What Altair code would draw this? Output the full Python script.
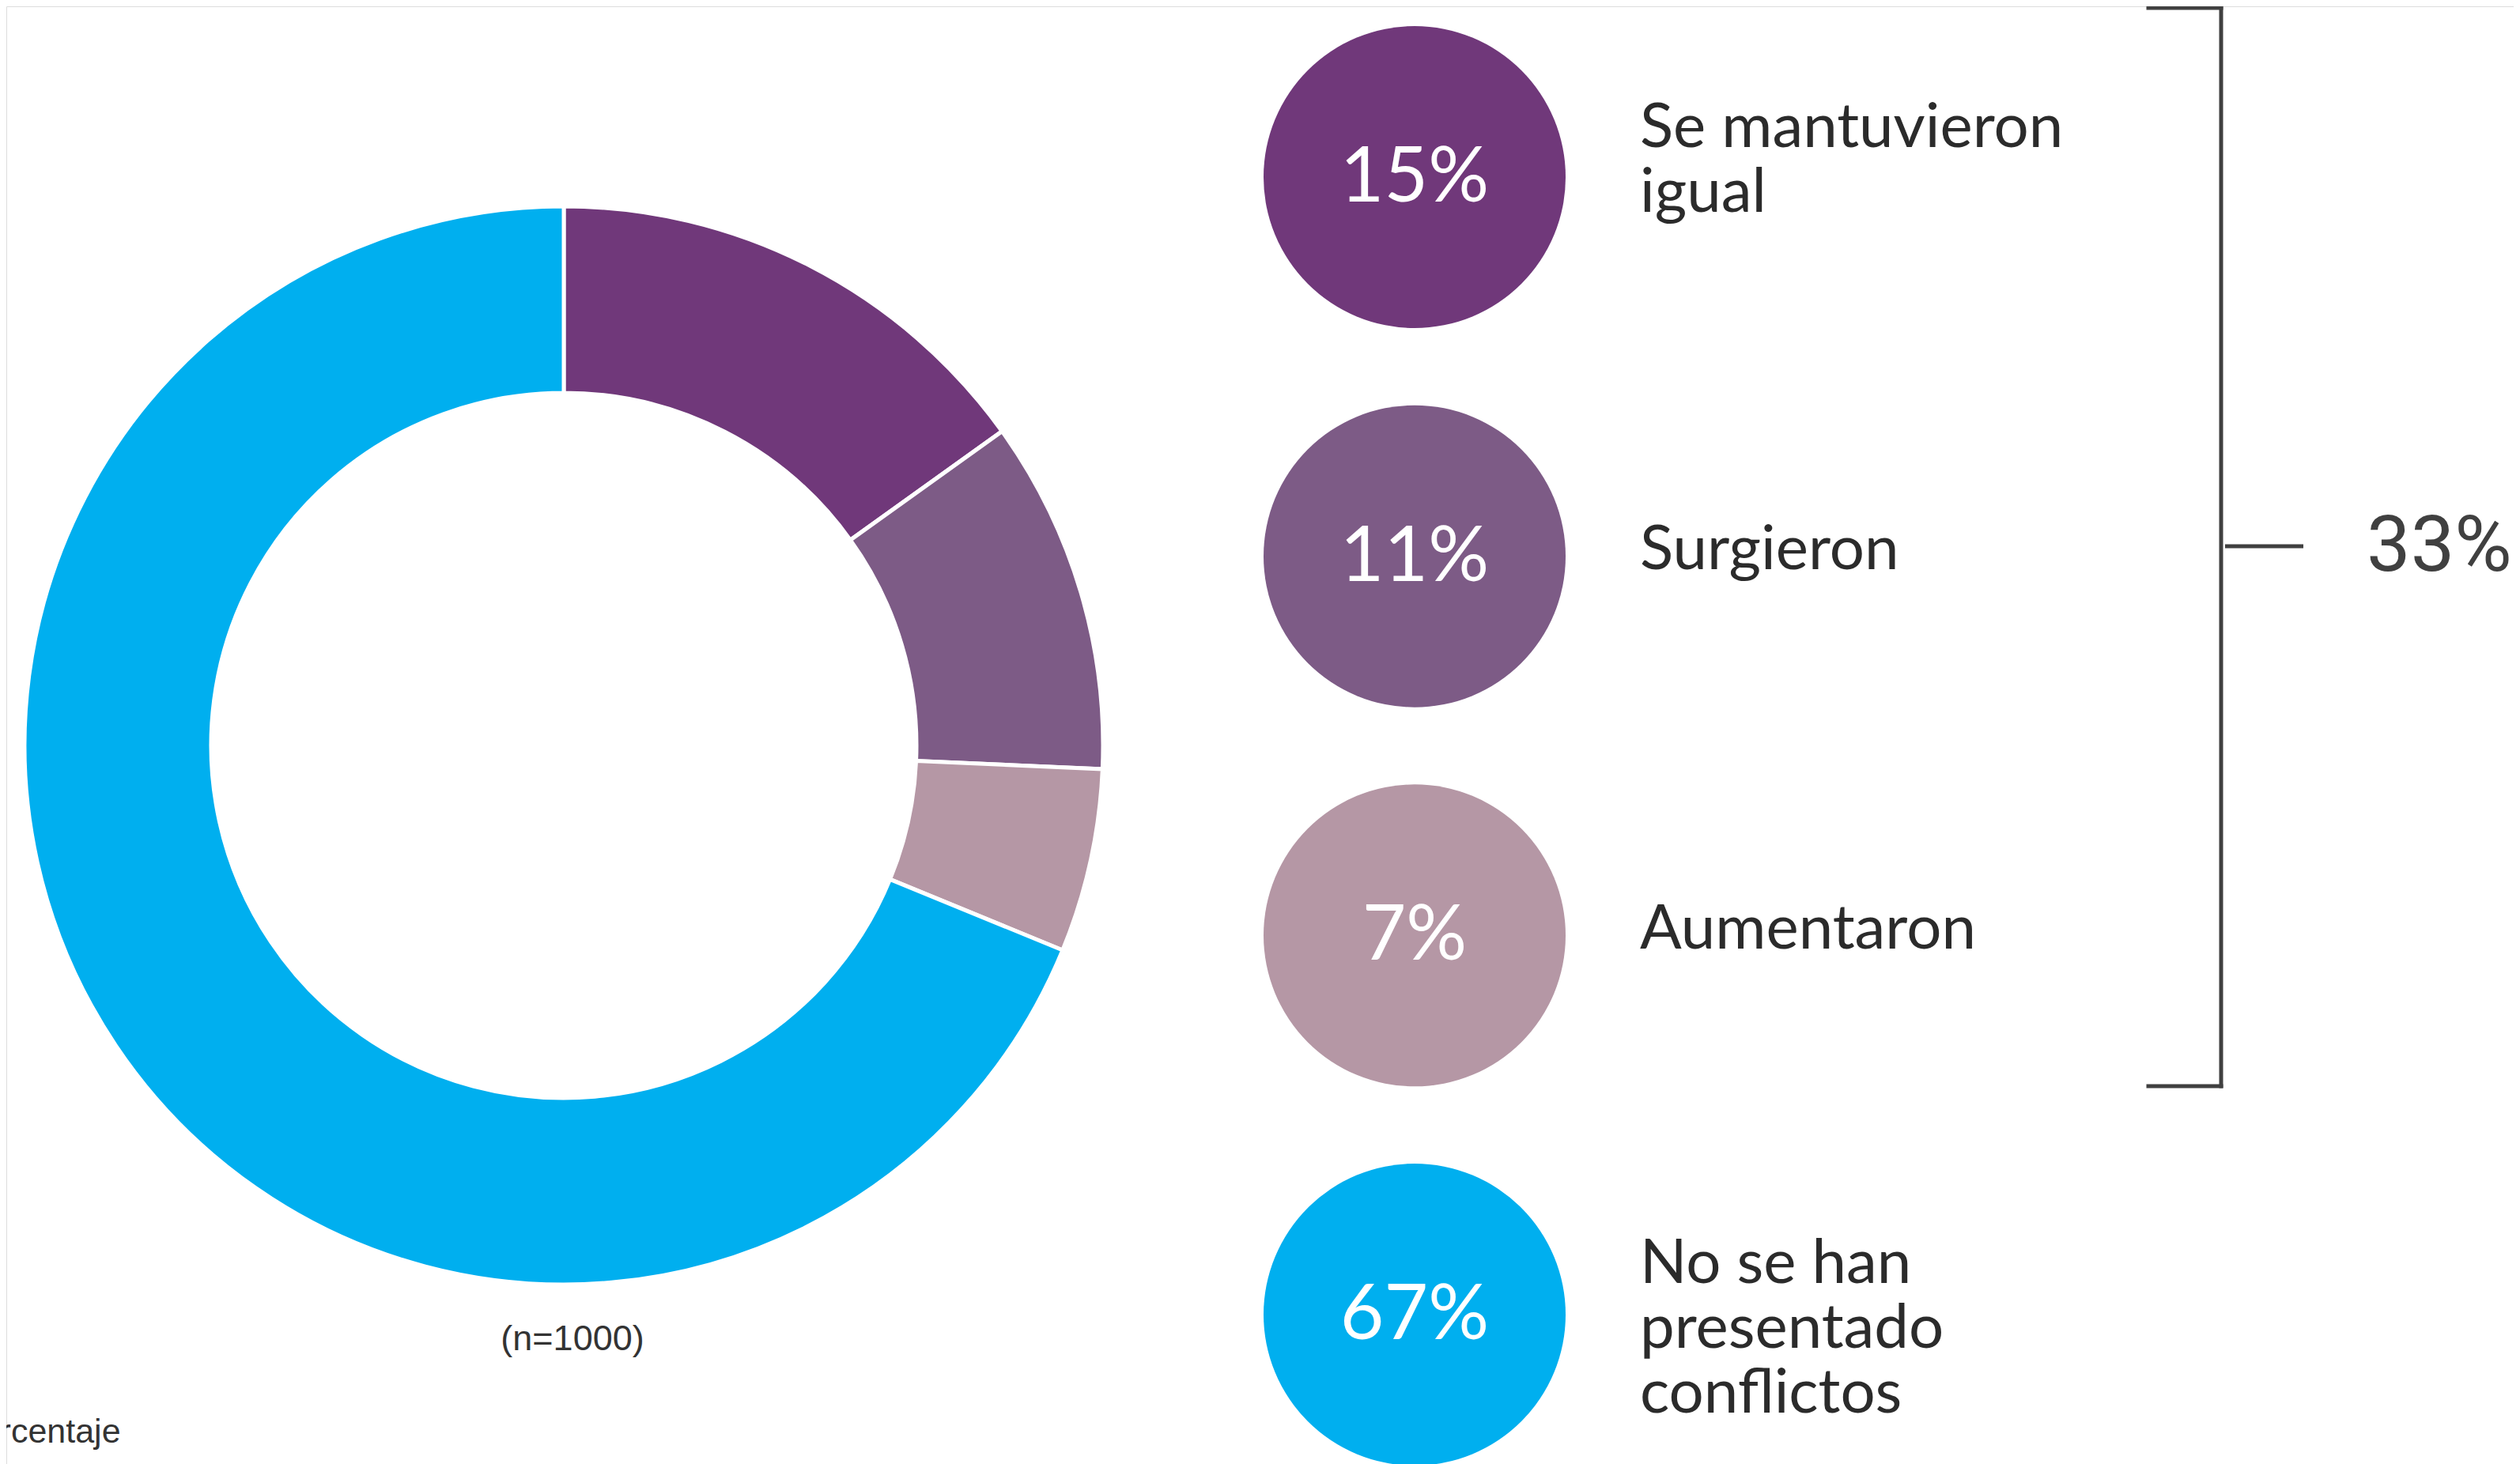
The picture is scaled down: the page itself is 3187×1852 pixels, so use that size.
import altair as alt
import pandas as pd

# ---------------- data ----------------
categories = ["Se mantuvieron igual", "Surgieron", "Aumentaron", "No se han presentado conflictos"]
label_text = ["Se mantuvieron\nigual", "Surgieron", "Aumentaron", "No se han\npresentado\nconflictos"]
pct_labels = [15, 11, 7, 67]            # printed percentages
slice_share = [15.1, 10.6, 5.5, 68.8]   # angular share of the drawn donut slices
colors = ["#70387A", "#7D5B86", "#B597A5", "#00AFEF"]
sample_note = "(n=1000)"
footer_note = "Porcentaje"
bracket_total = f"{sum(pct_labels[:3])}%"

# ---------------- layout ----------------
W, H = 3171, 1844
donut_cx, donut_cy = 705, 935
r_out, r_in = 682, 446
bub_x, bub_d = 1781, 382
bub_y_range = [216, 1655]
row_step = (bub_y_range[1] - bub_y_range[0]) / (len(categories) - 1)
label_x = 2066
label_dy = [-38, 16, 17, -40]
ink = "#2b2b2b"
bracket_col = "#404040"

df = pd.DataFrame({
    "cat": categories,
    "order": list(range(len(categories))),
    "share": slice_share,
    "pct": [f"{p}%" for p in pct_labels],
    "label": label_text,
    "dy": label_dy,
})

base = alt.Chart(df)
color = alt.Color("cat:N", scale=alt.Scale(domain=categories, range=colors), legend=None)
row_scale = alt.Scale(domain=[0, len(categories) - 1], range=bub_y_range)
ypos = alt.Y("order:Q", scale=row_scale, axis=None)

donut = base.mark_arc(radius=r_out, radius2=r_in, stroke="white", strokeWidth=5).encode(
    theta=alt.Theta("share:Q", stack=True),
    order=alt.Order("order:Q"),
    color=color,
    x=alt.value(donut_cx),
    y=alt.value(donut_cy),
)

bubbles = base.mark_circle(size=bub_d ** 2, opacity=1).encode(
    x=alt.value(bub_x), y=ypos, color=color
)

pcts = base.mark_text(font="Lato", fontSize=96, color="white", align="center",
                      baseline="alphabetic", dy=31).encode(
    x=alt.value(bub_x), y=ypos, text="pct:N"
)

labels = base.transform_calculate(
    lpos=f"datum.order + datum.dy / {row_step}"
).mark_text(font="Lato", fontSize=78, lineHeight=82, color=ink, align="left",
            baseline="alphabetic", lineBreak="\n").encode(
    x=alt.value(label_x), y=alt.Y("lpos:Q", scale=row_scale, axis=None), text="label:N"
)

one = alt.Chart(pd.DataFrame({"k": [0]}))
rule_style = dict(color=bracket_col, strokeWidth=5, strokeCap="square")
br_v = one.mark_rule(**rule_style).encode(x=alt.value(2801), y=alt.value(0), y2=alt.value(1366))
br_t = one.mark_rule(**rule_style).encode(x=alt.value(2709), x2=alt.value(2801), y=alt.value(2))
br_b = one.mark_rule(**rule_style).encode(x=alt.value(2709), x2=alt.value(2801), y=alt.value(1366))
br_m = one.mark_rule(color=bracket_col, strokeWidth=5).encode(x=alt.value(2806), x2=alt.value(2905), y=alt.value(683))

total_df = pd.DataFrame({"t": [bracket_total]})
total = alt.Chart(total_df).mark_text(font="Roboto", fontSize=99, color=bracket_col, align="left",
                                     baseline="alphabetic").encode(
    x=alt.value(2985), y=alt.value(714), text="t:N"
)

notes_df = pd.DataFrame({"t": [sample_note]})
n_note = alt.Chart(notes_df).mark_text(font="Liberation Sans", fontSize=45, color="#333333",
                                       align="center", baseline="middle").encode(
    x=alt.value(716), y=alt.value(1686), text="t:N"
)
foot_df = pd.DataFrame({"t": [footer_note]})
foot = alt.Chart(foot_df).mark_text(font="Liberation Sans", fontSize=43, color="#333333",
                                    align="left", baseline="alphabetic").encode(
    x=alt.value(-61), y=alt.value(1817), text="t:N"
)

chart = alt.layer(
    donut, bubbles, pcts, labels, br_v, br_t, br_b, br_m, total, n_note, foot
).properties(
    width=W, height=H, autosize=alt.AutoSizeParams(type="none"), padding=0
).configure_view(strokeWidth=0, strokeOpacity=0).configure(background="white")

chart.save("out.html", embed_options={"renderer": "svg", "actions": False})
